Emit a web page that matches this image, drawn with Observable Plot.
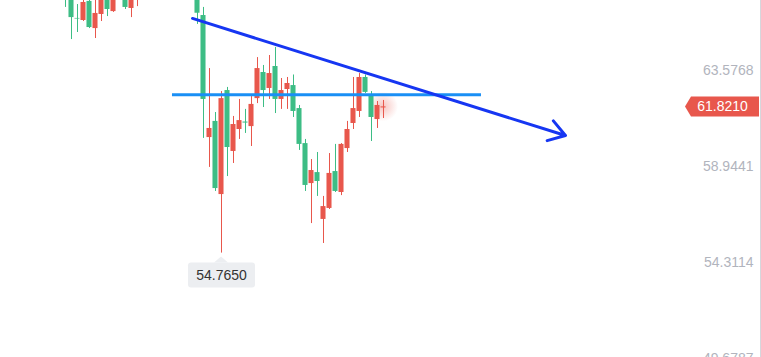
<!DOCTYPE html>
<html>
<head>
<meta charset="utf-8">
<script src="https://cdn.jsdelivr.net/npm/d3@7"></script>
<script src="https://cdn.jsdelivr.net/npm/@observablehq/plot@0.6"></script>
<style>
  html, body { margin: 0; padding: 0; background: #fff; }
  #chart svg { display: block; }
</style>
</head>
<body>
<div id="chart"></div>
<script>
// ---- Data (candle index, OHLC prices) ----
const idx   = [0, 1, 2, 3, 4, 5, 6, 7, 8, 10, 11, 12, 22, 23, 24, 25, 26, 27, 28, 29, 30, 31, 32, 33, 34, 35, 36, 37, 38, 39, 40, 41, 42, 43, 44, 45, 46, 47, 48, 49, 50, 51, 52, 53];
const open  = [67.92, 67.20, 66.09, 65.99, 66.91, 65.60, 66.28, 67.20, 66.42, 67.20, 66.57, 67.05, 67.05, 66.23, 60.34, 61.12, 57.59, 62.61, 59.67, 60.73, 61.09, 60.87, 62.22, 63.48, 62.71, 63.77, 62.18, 62.66, 62.85, 61.74, 60.05, 58.12, 58.65, 56.39, 56.92, 58.70, 57.69, 59.81, 61.02, 61.60, 63.24, 62.37, 61.21, 61.77];
const high  = [68.40, 67.44, 66.76, 67.10, 67.10, 67.05, 67.34, 67.34, 67.24, 67.34, 67.44, 67.53, 67.24, 66.62, 63.67, 61.55, 62.56, 62.76, 61.36, 62.18, 61.70, 62.32, 64.20, 63.82, 64.30, 64.69, 63.19, 63.24, 63.36, 61.89, 60.25, 59.28, 59.62, 57.50, 59.57, 60.01, 60.05, 61.12, 63.24, 63.43, 63.36, 62.56, 62.08, 62.13];
const low   = [66.62, 65.07, 65.41, 65.94, 65.60, 65.12, 65.94, 66.18, 66.38, 66.52, 66.13, 66.66, 65.80, 60.30, 58.90, 57.74, 54.765, 58.46, 59.09, 60.25, 60.54, 59.91, 61.98, 61.79, 62.18, 61.50, 61.70, 61.70, 61.31, 59.72, 57.74, 56.19, 57.50, 55.23, 56.87, 57.69, 57.54, 59.62, 60.73, 61.31, 62.47, 60.15, 60.78, 61.26];
const close = [67.10, 66.13, 66.06, 66.86, 65.65, 66.33, 67.10, 66.52, 67.15, 66.62, 67.24, 67.44, 66.34, 62.18, 60.78, 57.88, 62.22, 59.86, 60.97, 61.16, 61.04, 61.94, 63.67, 62.61, 63.43, 62.18, 62.61, 62.95, 61.60, 60.01, 58.03, 58.75, 58.22, 57.01, 58.61, 57.74, 60.01, 60.73, 61.74, 63.24, 62.52, 61.31, 61.89, 61.821];

// price axis tick labels
const axisTicks = [63.5768, 58.9441, 54.3114, 49.6787];
const lastPrice = 61.8210;
const lowIndex = 26;
const lowPrice = 54.7650;

// drawn lines (index, price)
const trendLine = [{x1: 21.17, y1: 66.09, x2: 83.33, y2: 60.44}];
const levelLine = [{start: 17.83, end: 69.33, price: 62.404}];

const UP = "#e8574c", DOWN = "#3dbd85";
const candles = idx.map((i, k) => ({i, open: open[k], high: high[k], low: low[k], close: close[k]}));
const colorOf = d => d.close >= d.open ? UP : DOWN;
const FONT = "'Liberation Sans', Arial, Helvetica, sans-serif";

function glow(index, {x, y}) {
  const g = d3.create("svg:g");
  const id = "glowgrad";
  const grad = g.append("defs").append("radialGradient").attr("id", id);
  grad.append("stop").attr("offset", "0%").attr("stop-color", UP).attr("stop-opacity", 0.35);
  grad.append("stop").attr("offset", "100%").attr("stop-color", UP).attr("stop-opacity", 0);
  g.append("circle").attr("cx", x(53)).attr("cy", y(lastPrice)).attr("r", 15).attr("fill", `url(#${id})`);
  return g.node();
}

function priceTag(index, {y}, values, dims) {
  const g = d3.create("svg:g");
  const yy = y(lastPrice);
  const r = dims.width - dims.marginRight - 1;
  g.append("path")
    .attr("d", `M${r - 74},${yy} L${r - 68},${yy - 10} L${r},${yy - 10} L${r},${yy + 10} L${r - 68},${yy + 10} Z`)
    .attr("fill", UP);
  g.append("text")
    .attr("x", r - 36.5).attr("y", yy).attr("dy", "0.35em")
    .attr("text-anchor", "middle").attr("fill", "#fff")
    .attr("font-family", FONT).attr("font-size", 14)
    .text(lastPrice.toFixed(4));
  return g.node();
}

function lowTag(index, {x, y}) {
  const g = d3.create("svg:g");
  const xc = x(lowIndex), yl = y(lowPrice);
  const top = yl + 10, h = 25, w = 67;
  g.append("path")
    .attr("d", `M${xc - 7},${top} L${xc},${top - 6} L${xc + 7},${top} Z`)
    .attr("fill", "#eceef1");
  g.append("rect")
    .attr("x", xc - 33).attr("y", top).attr("width", w).attr("height", h)
    .attr("rx", 3).attr("fill", "#eceef1");
  g.append("text")
    .attr("x", xc + 0.5).attr("y", top + h / 2).attr("dy", "0.35em")
    .attr("text-anchor", "middle").attr("fill", "#333")
    .attr("font-family", FONT).attr("font-size", 14)
    .text(lowPrice.toFixed(4));
  return g.node();
}

const W = 761, H = 357;
const chart = Plot.plot({
  width: W,
  height: H,
  marginTop: 0,
  marginBottom: 0,
  marginLeft: 0,
  marginRight: 1,
  style: {background: "#fff", fontFamily: FONT},
  x: {type: "linear", domain: [-65 / 6, (760 - 65) / 6], axis: null},
  y: {domain: [49.7275, 66.9547], axis: null},
  marks: [
    Plot.frame({anchor: "right", stroke: "#d5d7dc"}),
    glow,
    Plot.ruleX(candles, {x: "i", y1: "low", y2: "high", stroke: colorOf, strokeWidth: 1, clip: true}),
    Plot.rect(candles, {x1: d => d.i - 0.42, x2: d => d.i + 0.42, y1: "open", y2: "close", fill: colorOf, clip: true}),
    Plot.ruleY(levelLine, {y: "price", x1: "start", x2: "end", stroke: "#1a8ff5", strokeWidth: 3}),
    Plot.arrow(trendLine, {x1: "x1", y1: "y1", x2: "x2", y2: "y2", stroke: "#1636f2", strokeWidth: 3, headLength: 9.5, headAngle: 66, strokeLinecap: "round"}),
    Plot.text(axisTicks, {y: d => d, text: d => d.toFixed(4), frameAnchor: "right", dx: -7, textAnchor: "end", fill: "#b1b4bd", fontSize: 14, fontFamily: FONT}),
    priceTag,
    lowTag
  ]
});
document.getElementById("chart").append(chart);
</script>
</body>
</html>
